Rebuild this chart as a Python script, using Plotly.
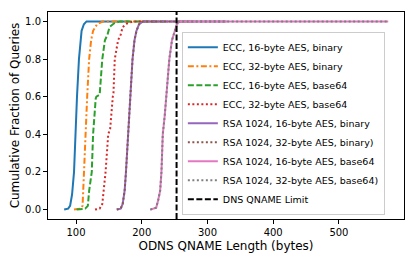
import plotly.graph_objects as go

# ---- data ----
ecc16_bin_x = [82, 88, 91, 94, 97, 99, 101.5, 104.5, 108.5, 112, 116, 180]
ecc16_bin_y = [0.0, 0.005, 0.02, 0.08, 0.2, 0.4, 0.6, 0.8, 0.95, 0.985, 1.0, 1.0]

ecc32_bin_x = [97, 106, 110, 112, 115, 117, 120, 123, 126, 132, 141, 220]
ecc32_bin_y = [0.0, 0.005, 0.02, 0.2, 0.4, 0.6, 0.8, 0.9, 0.95, 0.985, 1.0, 1.0]

ecc16_b64_x = [101, 114, 118, 120, 124, 126, 130, 131, 136, 140, 144, 148, 151, 158, 167, 240]
ecc16_b64_y = [0.0, 0.005, 0.02, 0.1, 0.2, 0.4, 0.59, 0.6, 0.61, 0.8, 0.9, 0.93, 0.97, 0.99, 1.0, 1.0]

ecc32_b64_x = [129, 136, 140, 145, 149, 152, 156, 157, 159, 164, 168, 171, 178, 187, 280]
ecc32_b64_y = [0.0, 0.005, 0.03, 0.2, 0.4, 0.43, 0.6, 0.62, 0.8, 0.9, 0.93, 0.97, 0.99, 1.0, 1.0]

rsa16_bin_x = [162, 168, 171, 174, 176, 179, 183, 186, 189, 192, 196, 202, 329]
rsa16_bin_y = [0.0, 0.005, 0.03, 0.1, 0.2, 0.4, 0.6, 0.8, 0.9, 0.95, 0.985, 1.0, 1.0]

rsa32_bin_x = [162, 168, 171, 174, 176, 179, 183, 186, 189, 192, 196, 202, 329]
rsa32_bin_y = [0.0, 0.005, 0.03, 0.1, 0.2, 0.4, 0.6, 0.8, 0.9, 0.95, 0.985, 1.0, 1.0]

rsa16_b64_x = [213, 222, 225, 228, 230, 232, 235, 237, 240, 242, 246, 250, 253, 257, 575]
rsa16_b64_y = [0.0, 0.01, 0.05, 0.1, 0.2, 0.4, 0.5, 0.6, 0.7, 0.8, 0.9, 0.95, 0.98, 1.0, 1.0]

rsa32_b64_x = [213, 222, 225, 228, 230, 232, 235, 237, 240, 242, 246, 250, 253, 257, 575]
rsa32_b64_y = [0.0, 0.01, 0.05, 0.1, 0.2, 0.4, 0.5, 0.6, 0.7, 0.8, 0.9, 0.95, 0.98, 1.0, 1.0]

dns_limit = 253
limit_y = [-0.05, 1.05]

x_ticks = [100, 200, 300, 400, 500]
y_ticks = [0.0, 0.2, 0.4, 0.6, 0.8, 1.0]

names = [
    "ECC, 16-byte AES, binary",
    "ECC, 32-byte AES, binary",
    "ECC, 16-byte AES, base64",
    "ECC, 32-byte AES, base64",
    "RSA 1024, 16-byte AES, binary",
    "RSA 1024, 32-byte AES, binary)",
    "RSA 1024, 16-byte AES, base64",
    "RSA 1024, 32-byte AES, base64)",
]
xs = [ecc16_bin_x, ecc32_bin_x, ecc16_b64_x, ecc32_b64_x,
      rsa16_bin_x, rsa32_bin_x, rsa16_b64_x, rsa32_b64_x]
ys = [ecc16_bin_y, ecc32_bin_y, ecc16_b64_y, ecc32_b64_y,
      rsa16_bin_y, rsa32_bin_y, rsa16_b64_y, rsa32_b64_y]
colors = ["#1f77b4", "#ff7f0e", "#2ca02c", "#d62728",
          "#9467bd", "#8c564b", "#e377c2", "#7f7f7f"]
DOT = "2px,2.5px"
DASH = "6px,2.5px"
DASHDOT = "6px,2.5px,2px,2.5px"
dashes = ["solid", DASHDOT, DASH, DOT, "solid", DOT, "solid", DOT]

fig = go.Figure()
for x, y, n, c, d in zip(xs, ys, names, colors, dashes):
    fig.add_trace(go.Scatter(x=x, y=y, mode="lines", name=n,
                             line=dict(color=c, width=2, dash=d)))
fig.add_trace(go.Scatter(x=[dns_limit, dns_limit], y=limit_y, mode="lines",
                         name="DNS QNAME Limit",
                         line=dict(color="black", width=2, dash=DASH)))

axis_common = dict(showline=True, mirror=True, linecolor="black", linewidth=1,
                   ticks="outside", ticklen=4, tickcolor="black",
                   showgrid=False, zeroline=False, automargin=False,
                   tickfont=dict(size=10, color="black"))

fig.update_layout(
    width=408, height=253,
    margin=dict(l=40, r=12, t=4, b=42),
    paper_bgcolor="white", plot_bgcolor="white",
    font=dict(family="DejaVu Sans", color="black"),
    showlegend=True,
    legend=dict(x=0.376, y=0.02, xanchor="left", yanchor="bottom",
                bgcolor="rgba(255,255,255,0.8)", bordercolor="#cccccc",
                borderwidth=1, font=dict(size=9.5), tracegroupgap=0,
                itemwidth=30),
)
fig.update_xaxes(range=[57.4, 599], tickvals=x_ticks,
                 title=dict(text="ODNS QNAME Length (bytes)", font=dict(size=12), standoff=4),
                 **axis_common)
fig.update_yaxes(range=[-0.05, 1.05], tickvals=y_ticks,
                 tickformat=".1f",
                 title=dict(text="Cumulative Fraction of Queries", font=dict(size=12), standoff=4),
                 **axis_common)

fig.write_html("out.html")
